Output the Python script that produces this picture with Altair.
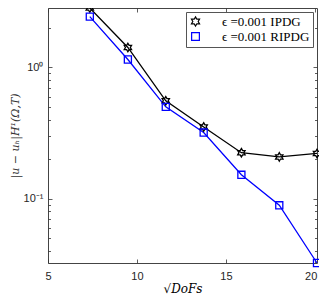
import altair as alt
import pandas as pd

x_vals = [7.35, 9.49, 11.62, 13.75, 15.87, 18.0, 20.12]
ipdg = [2.84, 1.42, 0.557, 0.352, 0.224, 0.208, 0.221]
ripdg = [2.44, 1.15, 0.501, 0.319, 0.152, 0.089, 0.0323]
series_names = ["ϵ =0.001 IPDG", "ϵ =0.001 RIPDG"]
series_colors = ["#000000", "#0000ff"]

x_ticks = [5, 10, 15, 20]
y_ticks = [0.04, 0.05, 0.06, 0.07, 0.08, 0.09, 0.1,
           0.2, 0.3, 0.4, 0.5, 0.6, 0.7, 0.8, 0.9, 1, 2]

rows = []
for i, x in enumerate(x_vals):
    rows.append({"x": x, "y": ipdg[i], "series": series_names[0]})
    rows.append({"x": x, "y": ripdg[i], "series": series_names[1]})
df = pd.DataFrame(rows)

W, H = 269, 255
star = ("M0,-1.2L0.346,-0.6L1.039,-0.6L0.693,0L1.039,0.6L0.346,0.6"
        "L0,1.2L-0.346,0.6L-1.039,0.6L-0.693,0L-1.039,-0.6L-0.346,-0.6Z")
square = "M-1,-1H1V1H-1Z"

xs = alt.Scale(domain=[5, 20.12], nice=False, zero=False)
ys = alt.Scale(type="log", domain=[0.0323, 2.84], nice=False)
color = alt.Color("series:N", scale=alt.Scale(domain=series_names, range=series_colors),
                  legend=alt.Legend(title=None, orient="top-right", offset=4,
                                    strokeColor="#555555", fillColor="white",
                                    padding=3, labelFont="Liberation Serif",
                                    labelFontSize=13, labelColor="black",
                                    symbolStrokeWidth=1.2, symbolSize=60,
                                    rowPadding=1, labelOffset=20))
shape = alt.Shape("series:N", scale=alt.Scale(domain=series_names, range=[star, square]),
                  legend=None)

xax = alt.Axis(values=x_ticks, title="√DoFs", titleFont="DejaVu Serif",
               titleFontStyle="italic", titleFontWeight="normal", titleFontSize=12,
               titleColor="black", titlePadding=2,
               labelFont="Liberation Sans", labelFontSize=11, labelColor="#262626",
               labelPadding=7, ticks=False, domain=False,
               labelAlign={"condition": {"test": "datum.value == 20", "value": "right"},
                           "value": "center"},
               labelOffset={"condition": {"test": "datum.value == 20", "value": 2},
                            "value": 0},
               grid=True, gridColor="#333333", gridWidth=0.8,
               gridDash=[4, H - 8, 4, 400])
yax = alt.Axis(values=y_ticks, title="|u − uₕ|H¹(Ω,T)", titleFont="DejaVu Serif",
               titleFontStyle="italic", titleFontWeight="normal", titleFontSize=11,
               titleColor="#333333", titlePadding=3,
               labelFont="Liberation Sans", labelFontSize=11, labelColor="#262626",
               labelPadding=5, ticks=False, domain=False,
               labelExpr="datum.value == 1 ? '10⁰' : (abs(datum.value - 0.1) < 1e-9 ? '10⁻¹' : '')",
               grid=True, gridColor="#333333", gridWidth=0.8,
               gridDash={"condition": {"test": "datum.value == 1 || abs(datum.value - 0.1) < 1e-9",
                                       "value": [4, W - 8, 4, 400]},
                         "value": [2.5, W - 5, 2.5, 400]})

base = alt.Chart(df)
lines = base.mark_line(strokeWidth=1.3).encode(
    x=alt.X("x:Q", scale=xs, axis=xax),
    y=alt.Y("y:Q", scale=ys, axis=yax),
    color=color,
    detail="series:N",
)
points = base.mark_point(filled=False, strokeWidth=1.3, size=50, opacity=1).encode(
    x=alt.X("x:Q", scale=xs),
    y=alt.Y("y:Q", scale=ys),
    color=color,
    shape=shape,
)

chart = alt.layer(lines, points).properties(
    width=W, height=H,
    autosize=alt.AutoSizeParams(type="none"),
    padding={"left": 40, "top": 0, "right": 2, "bottom": 37},
).configure_view(stroke="#444444", strokeWidth=1)

chart.save("out.html", embed_options={"renderer": "svg", "actions": False})
